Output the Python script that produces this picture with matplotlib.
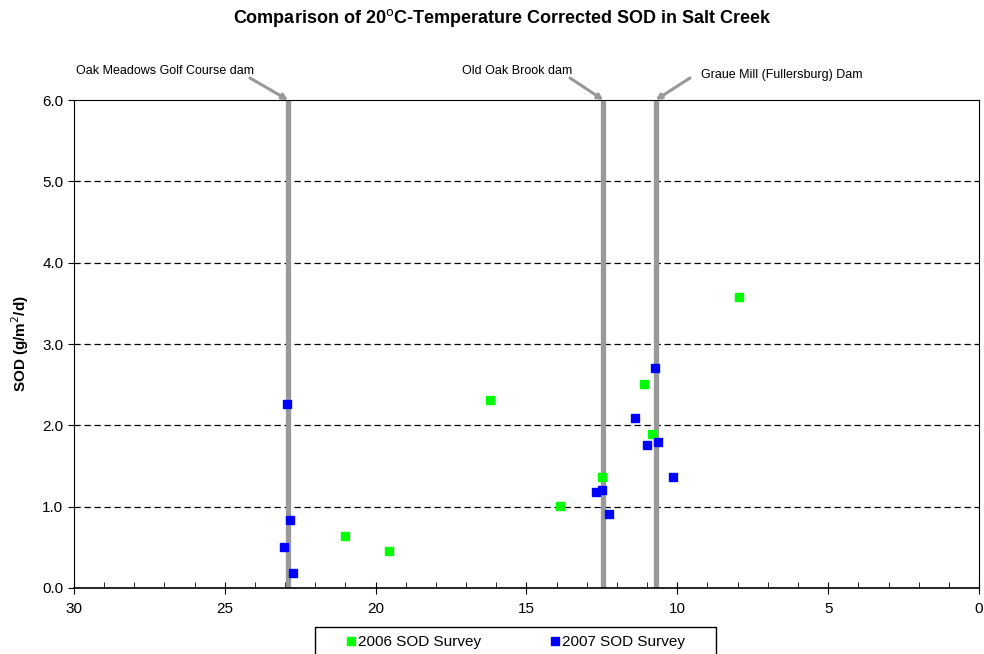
import matplotlib.pyplot as plt
import matplotlib.patches as mpatches
from matplotlib.ticker import MultipleLocator, FormatStrFormatter

plt.rcParams['font.family'] = ['Liberation Sans Narrow', 'Liberation Sans', 'DejaVu Sans']

# river mile vs SOD
x_2006 = [16.2, 21.0, 19.55, 7.95, 11.1, 10.85, 12.5, 13.9]
y_2006 = [2.31, 0.64, 0.46, 3.58, 2.51, 1.89, 1.37, 1.01]

x_2007 = [22.95, 22.85, 23.05, 22.75, 10.75, 11.4, 11.0, 10.65, 12.7, 12.5, 10.15, 12.25]
y_2007 = [2.26, 0.83, 0.50, 0.18, 2.70, 2.09, 1.76, 1.79, 1.18, 1.20, 1.36, 0.91]

dam_names = ['Oak Meadows Golf Course dam', 'Old Oak Brook dam', 'Graue Mill (Fullersburg) Dam']
dam_x = [22.9, 12.45, 10.72]

fig = plt.figure(figsize=(9.84, 6.54), dpi=100)
ax = fig.add_axes([0.075, 0.101, 0.920, 0.746])

# dam lines
for dx in dam_x:
    ax.plot([dx, dx], [0, 6], color='#999999', lw=3.8, zorder=2, solid_capstyle='butt')

ax.plot(x_2006, y_2006, 's', color='#00ff00', markersize=6, label='2006 SOD Survey', zorder=3)
ax.plot(x_2007, y_2007, 's', color='#0000ff', markersize=6, label='2007 SOD Survey', zorder=3)

ax.set_xlim(30, 0)
ax.set_ylim(0, 6)
ax.xaxis.set_major_locator(MultipleLocator(5))
ax.xaxis.set_minor_locator(MultipleLocator(1))
ax.yaxis.set_major_locator(MultipleLocator(1))
ax.yaxis.set_major_formatter(FormatStrFormatter('%.1f'))
ax.xaxis.set_major_formatter(FormatStrFormatter('%d'))
ax.tick_params(axis='x', which='major', direction='inout', length=8, labelsize=11, pad=6)
ax.tick_params(axis='x', which='minor', direction='in', length=4)
ax.tick_params(axis='y', which='major', direction='out', length=4, labelsize=11)
ax.tick_params(axis='y', which='minor', left=False)

for gy in [1, 2, 3, 4, 5]:
    ax.axhline(gy, color='black', lw=0.9, ls=(0, (5, 3)), zorder=1)

for s in ['top', 'right', 'left']:
    ax.spines[s].set_linewidth(0.8)
ax.spines['bottom'].set_linewidth(1.2)

ax.set_ylabel('SOD (g/m$^2$/d)', fontsize=11, fontweight='bold', labelpad=8)

fig.text(0.51, 0.972, 'Comparison of 20$^{\\mathrm{o}}$C-Temperature Corrected SOD in Salt Creek',
         ha='center', va='center', fontsize=13, fontweight='bold')

# dam labels with arrows
text_pos = [(0.077, 0.892), (0.47, 0.892), (0.712, 0.885)]
arrow_start = [(250, 576), (570, 576), (690, 576)]
for name, dx, (tx, ty), (sx, sy) in zip(dam_names, dam_x, text_pos, arrow_start):
    fig.text(tx, ty, name, ha='left', va='center', fontsize=9)
    ax.annotate('', xy=(dx, 6.0), xycoords='data',
                xytext=(sx, sy), textcoords='figure pixels',
                arrowprops=dict(arrowstyle='-|>', color='#999999', lw=2.2,
                                mutation_scale=8, shrinkA=0, shrinkB=0),
                annotation_clip=False)

# legend box (runs off the bottom of the figure)
box = mpatches.Rectangle((315 / 984, -0.02), 401 / 984, 0.061, transform=fig.transFigure,
                         fill=False, edgecolor='black', lw=1.0)
fig.patches.append(box)
fig.legend(loc='center', bbox_to_anchor=(0.524, 0.018), ncol=2, frameon=False,
           fontsize=11, handlelength=0.6, handletextpad=0.2, columnspacing=4.5,
           borderpad=0.0, markerscale=0.9)

fig.savefig('out.png', dpi=100)
